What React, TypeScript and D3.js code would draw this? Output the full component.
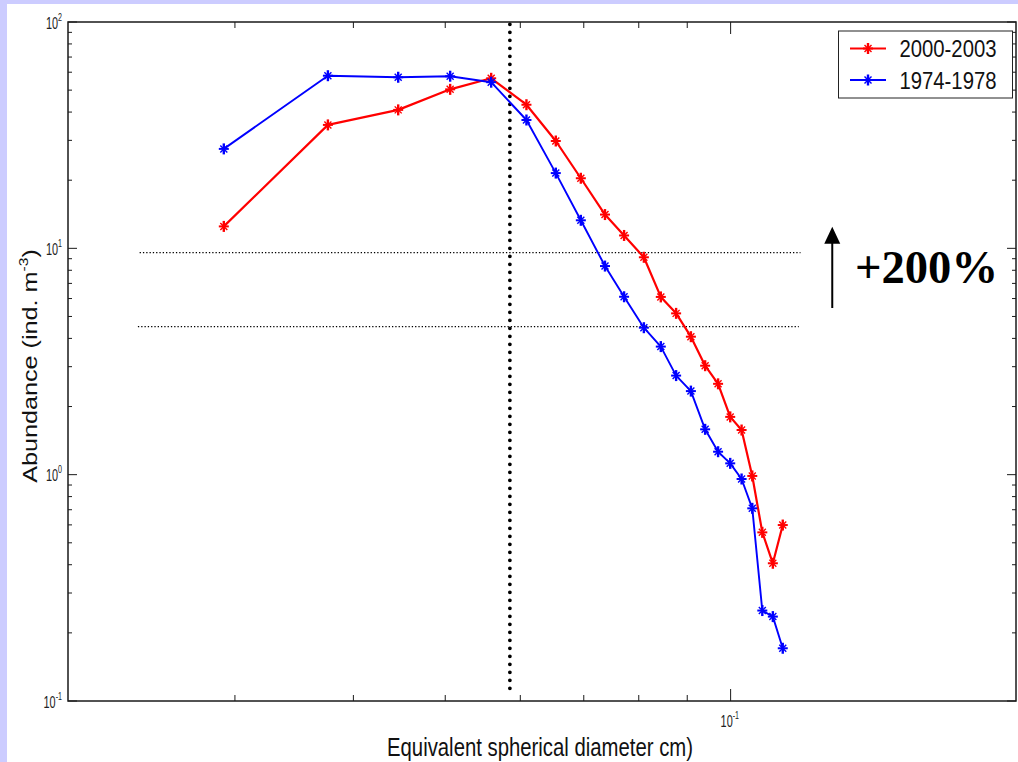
import React from "react";
import * as d3 from "d3";

// ---- data ----
const sizes = [0.0292, 0.0376, 0.0446, 0.0506, 0.0559, 0.0609, 0.0654, 0.0695, 0.0737, 0.0772, 0.081, 0.0844, 0.0876, 0.0908, 0.094, 0.097, 0.0999, 0.1027, 0.1054, 0.108, 0.1108, 0.1135];
const recent = [12.5, 35.1, 40.9, 50.4, 56.4, 43.1, 29.8, 20.4, 14.1, 11.4, 9.13, 6.1, 5.16, 4.07, 3.03, 2.52, 1.8, 1.575, 0.987, 0.556, 0.406, 0.599];
const old = [27.5, 57.9, 57.0, 57.6, 54.2, 36.9, 21.5, 13.3, 8.35, 6.11, 4.46, 3.68, 2.74, 2.34, 1.586, 1.263, 1.122, 0.957, 0.71, 0.251, 0.236, 0.171];
const seriesNames = ["2000-2003", "1974-1978"];
const seriesColors = ["#ff0000", "#0000ff"];
const xDomain = [0.02, 0.2];
const yDomain = [0.1, 100];
const yTickExps = [2, 1, 0, -1];
const xMajorTicks = [0.1];
const cutoffSize = 0.0585;
const refLevels = [9.57, 4.51];
const refLineStart = [0.0238, 0.0237];
const refLineEnd = [0.1185, 0.118];
const arrowX = 0.128;
const arrowFrom = 5.45;
const arrowTo = 12.47;
const annotation = "+200%";

const L = 68, R = 1016, T = 22, B = 701;

function Marker({ x, y, color }: { x: number; y: number; color: string }) {
  return (
    <g stroke={color} strokeWidth={2} strokeLinecap="butt">
      <line x1={x} y1={y - 5.5} x2={x} y2={y + 5.5} strokeWidth={2.4} />
      <line x1={x - 5} y1={y} x2={x + 5} y2={y} />
      <line x1={x - 3.5} y1={y - 3.5} x2={x + 3.5} y2={y + 3.5} strokeWidth={1.4} />
      <line x1={x - 3.5} y1={y + 3.5} x2={x + 3.5} y2={y - 3.5} strokeWidth={1.4} />
    </g>
  );
}

export default function App() {
  const x = d3.scaleLog().domain(xDomain).range([L, R]);
  const y = d3.scaleLog().domain(yDomain).range([B, T]);
  const line = d3
    .line<[number, number]>()
    .x((d) => x(d[0]))
    .y((d) => y(d[1]));
  const series = [recent, old];

  // minor ticks
  const yMinor: number[] = [];
  for (let e = -1; e < 2; e++) for (let m = 2; m <= 9; m++) yMinor.push(m * Math.pow(10, e));
  const xMinor: number[] = [];
  for (let e = -2; e < 0; e++) for (let m = 1; m <= 9; m++) {
    const v = m * Math.pow(10, e);
    if (v > xDomain[0] * 1.0001 && v < xDomain[1] * 0.9999 && Math.abs(v - 0.1) > 1e-9) xMinor.push(v);
  }
  const ax = "#1a1a1a";

  return (
    <svg width={1018} height={762} style={{ position: "absolute", left: 0, top: 0 }} fontFamily="Arial, 'Liberation Sans', sans-serif">
      <rect x={0} y={0} width={1018} height={762} fill="#ccccff" />
      <rect x={7} y={4} width={1011} height={758} fill="#ffffff" />

      {/* ticks */}
      <g stroke={ax} strokeWidth={1}>
        {yMinor.map((v, i) => (
          <g key={"ym" + i}>
            <line x1={L} x2={L + 4} y1={y(v)} y2={y(v)} />
            <line x1={R} x2={R - 4} y1={y(v)} y2={y(v)} />
          </g>
        ))}
        {yTickExps.map((e) => (
          <g key={"yM" + e}>
            <line x1={L} x2={L + 9} y1={y(Math.pow(10, e))} y2={y(Math.pow(10, e))} />
            <line x1={R} x2={R - 9} y1={y(Math.pow(10, e))} y2={y(Math.pow(10, e))} />
          </g>
        ))}
        {xMinor.map((v, i) => (
          <g key={"xm" + i}>
            <line x1={x(v)} x2={x(v)} y1={B} y2={B - 6} />
            <line x1={x(v)} x2={x(v)} y1={T} y2={T + 6} />
          </g>
        ))}
        {xMajorTicks.map((v, i) => (
          <g key={"xM" + i}>
            <line x1={x(v)} x2={x(v)} y1={B} y2={B - 12} />
            <line x1={x(v)} x2={x(v)} y1={T} y2={T + 12} />
          </g>
        ))}
      </g>
      <rect x={L} y={T} width={R - L} height={B - T} fill="none" stroke={ax} strokeWidth={1.5} />

      {/* y tick labels */}
      {yTickExps.map((e) => (
        <g key={"yl" + e} transform={`translate(${62},${y(Math.pow(10, e)) + 6.5}) scale(0.68,1)`}>
          <text textAnchor="end" fontSize={16} fill="#222">
            10
            <tspan fontSize={10.5} dy={-8}>{e}</tspan>
          </text>
        </g>
      ))}
      {xMajorTicks.map((v, i) => (
        <g key={"xl" + i} transform={`translate(${x(v) - 10},${726.5}) scale(0.68,1)`}>
          <text textAnchor="start" fontSize={16} fill="#222">
            10
            <tspan fontSize={10.5} dy={-8}>{Math.round(Math.log10(v))}</tspan>
          </text>
        </g>
      ))}

      {/* axis labels */}
      <text x={540} y={756} textAnchor="middle" fontSize={25} textLength={306} lengthAdjust="spacingAndGlyphs" fill="#111">
        Equivalent spherical diameter cm)
      </text>
      <g transform={`translate(36.5,${366}) rotate(-90) scale(1.2,1)`}>
        <text textAnchor="middle" fontSize={21} fill="#111">
          Abundance (ind. m
          <tspan fontSize={13} dy={-9}>-3</tspan>
          <tspan dy={9}>)</tspan>
        </text>
      </g>

      {/* reference lines */}
      {refLevels.map((lv, i) => (
        <line key={"rl" + i} x1={x(refLineStart[i])} x2={x(refLineEnd[i])} y1={y(lv)} y2={y(lv)} stroke="#000" strokeWidth={1.3} strokeDasharray="1.3 2" />
      ))}
      <line x1={x(cutoffSize)} x2={x(cutoffSize)} y1={y(97.7)} y2={y(0.113)} stroke="#000" strokeWidth={3.8} strokeDasharray="0 8" strokeLinecap="round" />

      {/* series */}
      {series.map((s, si) => {
        const pts: [number, number][] = sizes.map((d, i) => [d, s[i]]);
        return (
          <g key={"s" + si}>
            <path d={line(pts) || ""} fill="none" stroke={seriesColors[si]} strokeWidth={si === 0 ? 2.2 : 1.9} strokeLinejoin="round" />
            {pts.map((p, i) => (
              <Marker key={i} x={x(p[0])} y={y(p[1])} color={seriesColors[si]} />
            ))}
          </g>
        );
      })}

      {/* arrow + annotation */}
      <line x1={x(arrowX)} x2={x(arrowX)} y1={y(arrowFrom)} y2={y(arrowTo) + 14} stroke="#000" strokeWidth={2} />
      <path d={`M${x(arrowX)},${y(arrowTo)} L${x(arrowX) - 8},${y(arrowTo) + 17} L${x(arrowX) + 8},${y(arrowTo) + 17} Z`} fill="#000" />
      <text x={855} y={283} fontFamily="'Liberation Serif', 'Times New Roman', serif" fontWeight="bold" fontSize={47} textLength={143} lengthAdjust="spacingAndGlyphs" fill="#000">
        {annotation}
      </text>

      {/* legend */}
      <rect x={838.5} y={31} width={174} height={67} fill="#fff" stroke="#222" strokeWidth={1} />
      {seriesNames.map((n, i) => {
        const ly = 48.5 + i * 31.5;
        return (
          <g key={"lg" + i}>
            <line x1={850} x2={886} y1={ly} y2={ly} stroke={seriesColors[i]} strokeWidth={2} />
            <Marker x={868} y={ly} color={seriesColors[i]} />
            <text x={899.5} y={ly + 8.5} fontSize={23} textLength={97} lengthAdjust="spacingAndGlyphs" fill="#111">
              {n}
            </text>
          </g>
        );
      })}
    </svg>
  );
}
